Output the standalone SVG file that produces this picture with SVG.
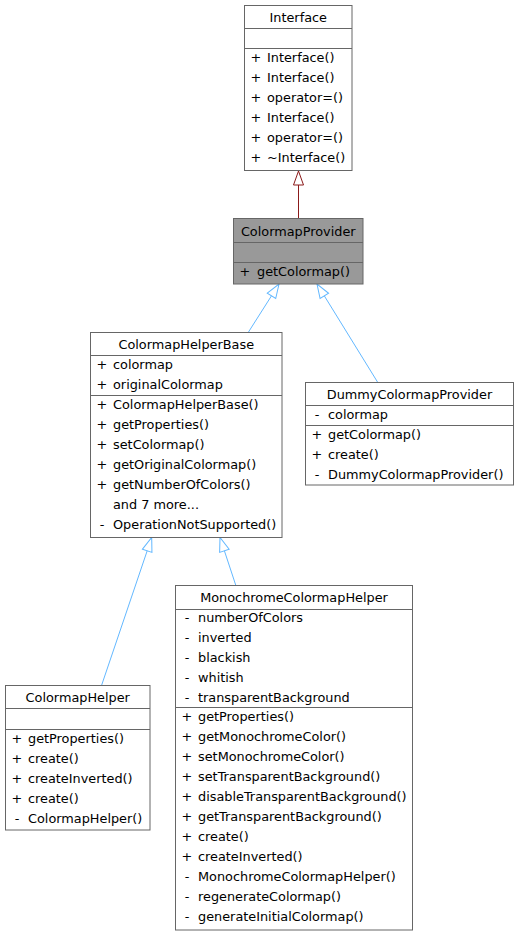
<svg xmlns="http://www.w3.org/2000/svg" width="519" height="936" viewBox="0 0 519 936">
<style>
text{font-family:"DejaVu Sans","Liberation Sans",sans-serif;font-size:12.85px;fill:#000}
.t{text-anchor:middle}
.v{text-anchor:middle}
.box{fill:#fff;stroke:#666;stroke-width:1}
.grey{fill:#999;stroke:#666;stroke-width:1}
.div{stroke:#666;stroke-width:1}
.blue{stroke:#63B8FF;stroke-width:1;fill:none;marker-end:url(#hb)}
.red{stroke:#8B1A1A;stroke-width:1;fill:none;marker-end:url(#hr)}
</style>
<defs>
<marker id="hb" markerUnits="userSpaceOnUse" viewBox="-1 -6 16 12" markerWidth="16" markerHeight="12" refX="14" refY="0" orient="auto" overflow="visible">
<path d="M0,-5 L14,0 L0,5 Z" fill="#fff" stroke="#63B8FF" stroke-width="1"/>
</marker>
<marker id="hr" markerUnits="userSpaceOnUse" viewBox="-1 -6 16 12" markerWidth="16" markerHeight="12" refX="14" refY="0" orient="auto" overflow="visible">
<path d="M0,-5 L14,0 L0,5 Z" fill="#fff" stroke="#8B1A1A" stroke-width="1"/>
</marker>
</defs>
<rect width="519" height="936" fill="#fff"/>
<g id="connectors">
<path class="red" d="M298.5,218 L298.5,171"/>
<path class="blue" d="M248.5,332 L279,284"/>
<path class="blue" d="M377.5,382 L317,284"/>
<path class="blue" d="M101.7,685 L151.7,537.5"/>
<path class="blue" d="M235.7,585 L220,537.5"/>
</g>
<g id="Interface">
<rect class="box" x="244.5" y="5.5" width="107.5" height="165"/>
<line class="div" x1="244.5" y1="28.5" x2="352" y2="28.5"/>
<line class="div" x1="244.5" y1="48.5" x2="352" y2="48.5"/>
<text class="t" x="298.25" y="21.5">Interface</text>
<text class="v" x="256" y="61.5">+</text><text x="267" y="61.5">Interface()</text>
<text class="v" x="256" y="81.5">+</text><text x="267" y="81.5">Interface()</text>
<text class="v" x="256" y="101.5">+</text><text x="267" y="101.5">operator=()</text>
<text class="v" x="256" y="121.5">+</text><text x="267" y="121.5">Interface()</text>
<text class="v" x="256" y="141.5">+</text><text x="267" y="141.5">operator=()</text>
<text class="v" x="256" y="161.5">+</text><text x="267" y="161.5">~Interface()</text>
</g>
<g id="ColormapProvider">
<rect class="grey" x="233.5" y="218.5" width="129.5" height="65.5"/>
<line class="div" x1="233.5" y1="242.5" x2="363" y2="242.5"/>
<line class="div" x1="233.5" y1="262.5" x2="363" y2="262.5"/>
<text class="t" x="298.25" y="235.5">ColormapProvider</text>
<text class="v" x="245" y="275.5">+</text><text x="257" y="275.5">getColormap()</text>
</g>
<g id="ColormapHelperBase">
<rect class="box" x="90.5" y="332.5" width="191.5" height="205"/>
<line class="div" x1="90.5" y1="355.5" x2="282" y2="355.5"/>
<line class="div" x1="90.5" y1="395.5" x2="282" y2="395.5"/>
<text class="t" x="186.25" y="348.5">ColormapHelperBase</text>
<text class="v" x="102" y="368.5">+</text><text x="113" y="368.5">colormap</text>
<text class="v" x="102" y="388.5">+</text><text x="113" y="388.5">originalColormap</text>
<text class="v" x="102" y="408.5">+</text><text x="113" y="408.5">ColormapHelperBase()</text>
<text class="v" x="102" y="428.5">+</text><text x="113" y="428.5">getProperties()</text>
<text class="v" x="102" y="448.5">+</text><text x="113" y="448.5">setColormap()</text>
<text class="v" x="102" y="468.5">+</text><text x="113" y="468.5">getOriginalColormap()</text>
<text class="v" x="102" y="488.5">+</text><text x="113" y="488.5">getNumberOfColors()</text>
<text x="113" y="508.5">and 7 more...</text>
<text class="v" x="102" y="528.5">-</text><text x="113" y="528.5">OperationNotSupported()</text>
</g>
<g id="DummyColormapProvider">
<rect class="box" x="305.5" y="382.5" width="208" height="102.5"/>
<line class="div" x1="305.5" y1="405.5" x2="513.5" y2="405.5"/>
<line class="div" x1="305.5" y1="425.5" x2="513.5" y2="425.5"/>
<text class="t" x="409.5" y="398.5">DummyColormapProvider</text>
<text class="v" x="317" y="418.5">-</text><text x="328" y="418.5">colormap</text>
<text class="v" x="317" y="438.5">+</text><text x="328" y="438.5">getColormap()</text>
<text class="v" x="317" y="458.5">+</text><text x="328" y="458.5">create()</text>
<text class="v" x="317" y="478.5">-</text><text x="328" y="478.5">DummyColormapProvider()</text>
</g>
<g id="ColormapHelper">
<rect class="box" x="5.5" y="685.5" width="144.5" height="144.5"/>
<line class="div" x1="5.5" y1="708.5" x2="150" y2="708.5"/>
<line class="div" x1="5.5" y1="729.5" x2="150" y2="729.5"/>
<text class="t" x="77.75" y="701.5">ColormapHelper</text>
<text class="v" x="17" y="742.5">+</text><text x="28" y="742.5">getProperties()</text>
<text class="v" x="17" y="762.5">+</text><text x="28" y="762.5">create()</text>
<text class="v" x="17" y="782.5">+</text><text x="28" y="782.5">createInverted()</text>
<text class="v" x="17" y="802.5">+</text><text x="28" y="802.5">create()</text>
<text class="v" x="17" y="822.5">-</text><text x="28" y="822.5">ColormapHelper()</text>
</g>
<g id="MonochromeColormapHelper">
<rect class="box" x="175.5" y="585.5" width="237" height="344.5"/>
<line class="div" x1="175.5" y1="609.5" x2="412.5" y2="609.5"/>
<line class="div" x1="175.5" y1="707.5" x2="412.5" y2="707.5"/>
<text class="t" x="294" y="601.5">MonochromeColormapHelper</text>
<text class="v" x="187" y="621.5">-</text><text x="198" y="621.5">numberOfColors</text>
<text class="v" x="187" y="641.5">-</text><text x="198" y="641.5">inverted</text>
<text class="v" x="187" y="661.5">-</text><text x="198" y="661.5">blackish</text>
<text class="v" x="187" y="681.5">-</text><text x="198" y="681.5">whitish</text>
<text class="v" x="187" y="701.5">-</text><text x="198" y="701.5">transparentBackground</text>
<text class="v" x="187" y="720.5">+</text><text x="198" y="720.5">getProperties()</text>
<text class="v" x="187" y="740.5">+</text><text x="198" y="740.5">getMonochromeColor()</text>
<text class="v" x="187" y="760.5">+</text><text x="198" y="760.5">setMonochromeColor()</text>
<text class="v" x="187" y="780.5">+</text><text x="198" y="780.5">setTransparentBackground()</text>
<text class="v" x="187" y="800.5">+</text><text x="198" y="800.5">disableTransparentBackground()</text>
<text class="v" x="187" y="820.5">+</text><text x="198" y="820.5">getTransparentBackground()</text>
<text class="v" x="187" y="840.5">+</text><text x="198" y="840.5">create()</text>
<text class="v" x="187" y="860.5">+</text><text x="198" y="860.5">createInverted()</text>
<text class="v" x="187" y="880.5">-</text><text x="198" y="880.5">MonochromeColormapHelper()</text>
<text class="v" x="187" y="900.5">-</text><text x="198" y="900.5">regenerateColormap()</text>
<text class="v" x="187" y="920.5">-</text><text x="198" y="920.5">generateInitialColormap()</text>
</g>
</svg>
